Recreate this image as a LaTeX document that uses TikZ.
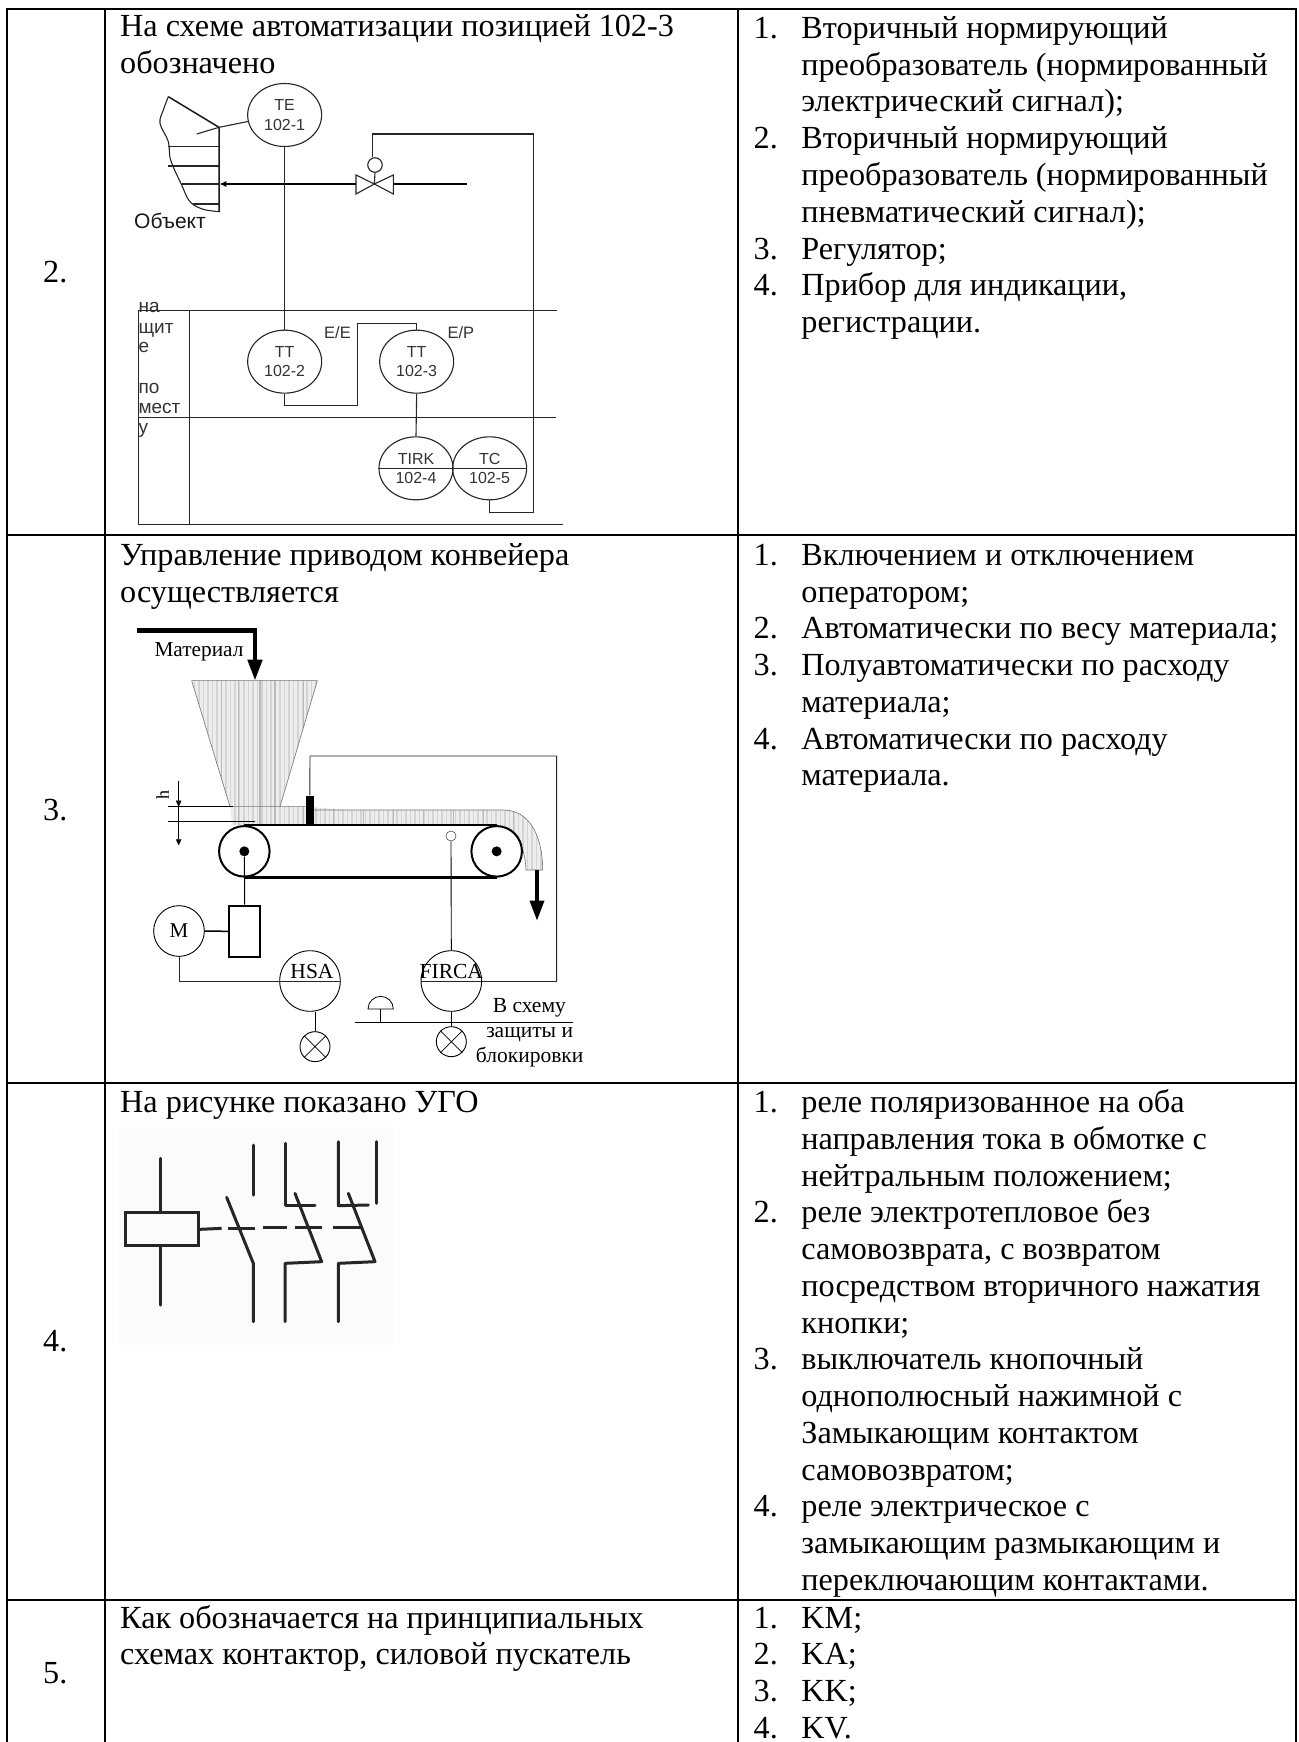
\documentclass[tikz,border=0pt]{standalone}
\usepackage{fontspec}
\setmainfont{Liberation Serif}
\newfontfamily\arialf{Liberation Sans}
\usetikzlibrary{shapes.geometric,arrows.meta}
\newcommand{\cellLines}[4]{\foreach \ltext [count=\i from 0] in {#4} \node[cell] (#1\i) at (#2,{#3+36.75*\i}) {\ltext};}
\newcommand{\stripes}{%
 \fill[black!7] (260,200) rectangle (1340,800);
 \foreach \xs in {270,283.5,...,1340} \draw[black!17,line width=1.6pt] (\xs,200) -- (\xs,800);
 \foreach \xs in {365,415,480,525,610,700,790,880,970,1060,1150,1240} \draw[black!27,line width=1.2pt] (\xs,200) -- (\xs,800);
}
\tikzset{
 cell/.style={anchor=base west,inner sep=0pt,font=\fontsize{32.2}{36}\selectfont},
 rule/.style={line width=2pt,black},
 thinl/.style={line width=1.1pt,black!85},
 inst/.style={draw=black!85,line width=1.1pt,ellipse,inner sep=0pt,minimum width=74pt,minimum height=63pt,align=center,
   font=\arialf\fontsize{16}{19.3}\selectfont,text=black!80},
 sanslab/.style={anchor=base west,inner sep=0pt,font=\arialf\fontsize{19}{22}\selectfont,text=black!80},
 eplab/.style={anchor=base west,inner sep=0pt,font=\arialf\fontsize{16.5}{19}\selectfont,text=black!80},
 serlab/.style={inner sep=0pt,font=\fontsize{21.5}{24}\selectfont},
 bigcirc/.style={draw,circle,line width=.9pt,inner sep=0pt,minimum size=60.6pt},
 lampc/.style={draw,circle,line width=.9pt,inner sep=0pt,minimum size=30pt},
 relay/.style={line width=3pt,black!85,line cap=round,line join=round},
 edgeg/.style={draw=black!55,line width=.6pt}
}
\begin{document}
\begin{tikzpicture}[x=1pt,y=-1pt]
\useasboundingbox (0,0) rectangle (1298,1742);
\fill[white] (0,0) rectangle (1298,1742);
% ---- table
\draw[rule] (6.5,1742) -- (6.5,9) -- (1296,9) -- (1296,1742);
\draw[rule] (104.8,9) -- (104.8,1742);
\draw[rule] (738.3,9) -- (738.3,1742);
\draw[rule] (5.5,535) -- (1297,535);
\draw[rule] (5.5,1083) -- (1297,1083);
\draw[rule] (5.5,1600) -- (1297,1600);
% ---- row labels
\node[cell] (r2) at (43,282.3) {2.};
\node[cell] (r3) at (43,820) {3.};
\node[cell] (r4) at (43,1351) {4.};
\node[cell] (r5) at (43,1683) {5.};
% ---- question texts
\cellLines{qa}{120}{37}{На схеме автоматизации позицией 102-3,обозначено}
\cellLines{qb}{120}{565.3}{Управление приводом конвейера,осуществляется}
\cellLines{qc}{120}{1112.7}{На рисунке показано УГО}
\cellLines{qd}{120}{1628}{Как обозначается на принципиальных,схемах контактор{,} силовой пускатель}
% ---- answers row 2
\node[cell] (na1) at (753.5,38.5) {1.};
\node[cell] (na2) at (753.5,148.75) {2.};
\node[cell] (na3) at (753.5,259) {3.};
\node[cell] (na4) at (753.5,295.75) {4.};
\cellLines{aa}{801.2}{38.5}{Вторичный нормирующий,преобразователь (нормированный,электрический сигнал);,Вторичный нормирующий,преобразователь (нормированный,пневматический сигнал);,Регулятор;,Прибор для индикации{,},регистрации.}
% ---- answers row 3
\node[cell] (nb1) at (753.5,565.3) {1.};
\node[cell] (nb2) at (753.5,638.8) {2.};
\node[cell] (nb3) at (753.5,675.55) {3.};
\node[cell] (nb4) at (753.5,749.05) {4.};
\cellLines{ab}{801.2}{565.3}{Включением и отключением,оператором;,Автоматически по весу материала;,Полуавтоматически по расходу,материала;,Автоматически по расходу,материала.}
% ---- answers row 4
\node[cell] (nc1) at (753.5,1112.7) {1.};
\node[cell] (nc2) at (753.5,1222.95) {2.};
\node[cell] (nc3) at (753.5,1369.95) {3.};
\node[cell] (nc4) at (753.5,1516.95) {4.};
\cellLines{ac}{801.2}{1112.7}{реле поляризованное на оба,направления тока в обмотке с,нейтральным положением;,реле электротепловое без,самовозврата{,} с возвратом,посредством вторичного нажатия,кнопки;,выключатель кнопочный,однополюсный нажимной с,Замыкающим контактом,самовозвратом;,реле электрическое с,замыкающим размыкающим и,переключающим контактами.}
% ---- answers row 5
\node[cell] (nd1) at (753.5,1628) {1.};
\node[cell] (nd2) at (753.5,1664.75) {2.};
\node[cell] (nd3) at (753.5,1701.5) {3.};
\node[cell] (nd4) at (753.5,1738.25) {4.};
\cellLines{ad}{801.2}{1628}{KM;,KA;,KK;,KV.}

% ======== diagram 1: automation scheme (crop coordinates x3)
\begin{scope}[shift={(100pt,-70pt)},x=.33333pt,y=-.33333pt]
 % object
 \draw[thinl] plot[smooth,tension=.6] coordinates {(205,80) (190,120) (180,160) (205,215) (212,270) (245,345) (270,395) (310,418) (360,425)};
 \draw[line width=1.5pt,black!90] (205,80) -- (357,172) -- (357,425);
 \foreach \ya/\xa in {230/205,288/205,342/247,402/280} \draw[thinl] (\xa,\ya) -- (357,\ya);
 % instruments
 \node[inst] (te) at (554,135) {TE\\102-1};
 \node[inst] (tt2) at (554,875) {TT\\102-2};
 \node[inst] (tt3) at (950,875) {TT\\102-3};
 \node[inst] (tirk) at (948,1195) {TIRK\\102-4};
 \node[inst] (tc) at (1169,1195) {TC\\102-5};
 \draw[thinl] (tirk.west) -- (tc.east);
 % sensor
 \coordinate (sa) at (290,192);
 \coordinate (sb) at (357,172);
 \draw[thinl] (sa) -- (sb) -- (te.190);
 % pipe and valve
 \coordinate (vc) at (823,342);
 \coordinate (pipeR) at (1100,342);
 \coordinate (pipeL) at (358,342);
 \node[draw=black!85,line width=1.1pt,circle,inner sep=0pt,minimum size=14.5pt] (act) at (825,285) {};
 \draw[thinl] (768,315) -- (768,372) -- (vc) -- cycle;
 \draw[thinl] (880,315) -- (880,372) -- (vc) -- cycle;
 \draw[line width=1.3pt,black] (pipeR) -- (880,342);
 \draw[line width=1.3pt,black,-{Latex[length=7pt,width=6pt]}] (768,342) -- (pipeL);
 \draw[thinl] (act.south) -- (vc);
 \draw[thinl] (te.south) -- (tt2.north);
 % frame
 \draw[thinl] (115,721) -- (1370,721);
 \draw[thinl] (115,1043) -- (1368,1043);
 \draw[thinl] (115,721) -- (115,1363) -- (1390,1363);
 \draw[thinl] (268,721) -- (268,1363);
 % connectors
 \draw[thinl] (tt2.south) -- ++(0,36) -| (772,760) -| (tt3.north);
 \draw[thinl] (tt3.south) -- (tirk.north);
 \draw[thinl] (tc.south) |- (1300,1328) |- (817,192) -- (act.north -| 817,0);
 % labels
 \node[anchor=base west,inner sep=0pt,font=\arialf\fontsize{21}{24}\selectfont,text=black!90] (obj) at (102,475) {Объект};
 \node[sanslab] (p1) at (115,728) {на};
 \node[sanslab] (p2) at (115,790) {щит};
 \node[sanslab] (p3) at (115,848) {е};
 \node[sanslab] (p4) at (115,970) {по};
 \node[sanslab] (p5) at (115,1030) {мест};
 \node[sanslab] (p6) at (115,1090) {у};
 \node[eplab] (ee) at (672,805) {E/E};
 \node[eplab] (ep) at (1042,805) {E/P};
\end{scope}

% ======== diagram 2: conveyor
\begin{scope}[shift={(100pt,-610pt)},x=.33333pt,y=-.33333pt]
 % hopper and material
 \begin{scope}
  \clip (275,212) -- (652,212) -- (540,590) -- (390,590) -- cycle;
  \stripes
 \end{scope}
 \begin{scope}
  \clip (392,590) -- (620,590) -- (740,600) -- (1210,600) .. controls (1290,600) and (1328,680) .. (1328,780) -- (1278,780) .. controls (1275,700) and (1240,648) .. (1190,648) -- (395,646) -- cycle;
  \stripes
 \end{scope}
 \path[edgeg] (275,212) -- (652,212) -- (540,590) (390,590) -- (275,212);
 \path[edgeg] (392,590) -- (620,590) (642,600) -- (1210,600) .. controls (1290,600) and (1328,680) .. (1328,780) -- (1278,780) .. controls (1275,700) and (1240,648) .. (1190,648);
 % feed arrow
 \coordinate (feedS) at (112,62);
 \coordinate (feedC) at (465,62);
 \coordinate (feedE) at (465,212);
 \draw[line width=4.5pt,black,-{Triangle[length=21pt,width=14pt]}] (feedS) -- (feedC) -- (feedE);
 \node[anchor=base west,inner sep=0pt,font=\fontsize{21.3}{24}\selectfont] (mat) at (163,138) {Материал};
 % belt
 \node[draw,circle,line width=2pt,inner sep=0pt,minimum size=50.5pt] (pl) at (433,724) {};
 \node[draw,circle,line width=2pt,inner sep=0pt,minimum size=50.5pt] (pr) at (1190,724) {};
 \node[fill=black,circle,inner sep=0pt,minimum size=10pt] (al) at (433,724) {};
 \node[fill=black,circle,inner sep=0pt,minimum size=10pt] (ar) at (1190,724) {};
 \draw[line width=2.2pt] (pl.north) -- (pr.north);
 \draw[line width=2.2pt] (pl.south) -- (pr.south);
 % outlet arrow
 \coordinate (outS) at (1311,780);
 \coordinate (outE) at (1311,932);
 \draw[line width=3.4pt,black,-{Triangle[length=20pt,width=14pt]}] (outS) -- (outE);
 % level sensor
 \node[fill=black,inner sep=0pt,minimum width=8.3pt,minimum height=30.3pt] (lev) at (629.5,602.5) {};
 \coordinate (fbR) at (1370,1113);
 % drive
 \node[draw,line width=2.2pt,inner sep=0pt,minimum width=31.3pt,minimum height=51.3pt] (gear) at (434,964) {};
 \node[bigcirc,minimum size=50.7pt,font=\fontsize{21}{24}\selectfont] (mot) at (237,963) {M};
 \draw[line width=1pt] (al) -- (gear.north);
 \draw[line width=1.5pt] (mot.east) -- (gear.west);
 % instruments
 \node[bigcirc] (hsa) at (630,1113) {};
 \node[bigcirc] (firca) at (1054,1113) {};
 \node[serlab] at (636,1083) (hsat) {HSA};
 \node[serlab] at (1054,1083) (firt) {FIRCA};
 \draw[line width=.9pt,black!85] (mot.south) |- (hsa.east);
 \draw[line width=.9pt,black!85] (firca.west) -- (fbR);
 \draw[line width=.9pt,black!85] (fbR) |- (630,438) -- (lev.north);
 % flow sensor
 \node[draw=black!70,line width=.6pt,circle,inner sep=0pt,minimum size=10pt] (fs) at (1053,678) {};
 \draw[line width=.9pt] (fs.south) -- (firca.north);
 % lamps
 \node[lampc] (lh) at (645,1310) {};
 \node[lampc] (lf) at (1054,1295) {};
 \draw[line width=.7pt] (lh.45) -- (lh.225) (lh.135) -- (lh.315);
 \draw[line width=.7pt] (lf.45) -- (lf.225) (lf.135) -- (lf.315);
 \draw[line width=.9pt] (645,1205) -- (lh.north);
 \draw[line width=.9pt] (firca.south) -- (lf.north);
 % button and bus
 \coordinate (busL) at (765,1236);
 \coordinate (busR) at (1420,1236);
 \draw[line width=.9pt] (busL) -- (busR);
 \draw[line width=.8pt] (804,1197) arc[start angle=180,end angle=360,radius=38] -- cycle;
 \draw[line width=.8pt] (842,1236) -- (842,1197);
 \node[anchor=base,serlab] (t1) at (1288,1207) {В схему};
 \node[anchor=base,serlab] (t2) at (1289,1283) {защиты и};
 \node[anchor=base,serlab] (t3) at (1289,1357) {блокировки};
 % h dimension
 \coordinate (ha) at (205,590);
 \coordinate (hb) at (205,634);
 \draw[line width=.6pt] (ha) -- (400,590);
 \draw[line width=.6pt] (hb) -- (465,634);
 \draw[line width=.6pt,-{Triangle[length=6pt,width=5.5pt]}] (236,512) -- (236,590);
 \draw[line width=.6pt,-{Triangle[length=6pt,width=5.5pt]}] (236,590) -- (236,706);
 \node[rotate=90,inner sep=0pt,font=\fontsize{18}{20}\selectfont] (hh) at (188,556) {h};
\end{scope}

% ======== diagram 3: relay symbol
\begin{scope}[shift={(100pt,-1110pt)},x=.33333pt,y=-.33333pt]
 \fill[black!1.5] (58,50) rectangle (880,705);
 \node[draw=black!85,line width=3pt,inner sep=0pt,minimum width=73pt,minimum height=33pt] (coil) at (185,358) {};
 \coordinate (ct) at (180,145);
 \coordinate (cb) at (180,585);
 \draw[relay] (ct) -- (180,308);
 \draw[relay] (180,408) -- (cb);
 \draw[relay,line cap=butt] (coil.east) -- (365,355);
 \draw[relay,line cap=butt] (385,355) -- (465,355);
 \draw[relay,line cap=butt] (490,353) -- (560,353);
 \draw[relay,line cap=butt] (585,353) -- (665,353);
 \draw[relay,line cap=butt] (700,352) -- (785,352);
 \draw[relay] (460,105) -- (460,255);
 \draw[relay] (380,262) -- (460,460) -- (460,635);
 \draw[relay] (555,100) -- (555,287) -- (645,287);
 \draw[relay] (585,250) -- (665,455) -- (555,460) -- (555,635);
 \draw[relay] (715,95) -- (715,287) -- (805,285);
 \draw[relay] (745,250) -- (825,455) -- (715,460) -- (715,635);
 \draw[relay] (830,95) -- (830,280);
\end{scope}
\end{tikzpicture}
\end{document}
